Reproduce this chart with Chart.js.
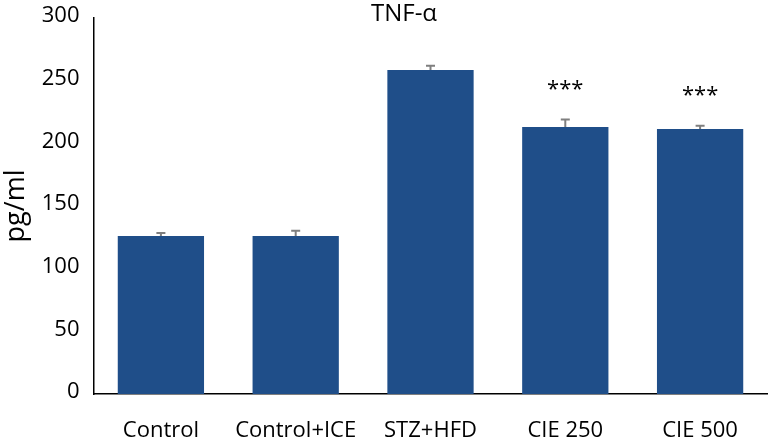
<!DOCTYPE html>
<html>
<head>
<meta charset="utf-8">
<script src="https://cdn.jsdelivr.net/npm/chart.js@4"></script>
<style>
  html, body { margin: 0; padding: 0; background: #fff; }
  #wrap { width: 768px; height: 437px; position: relative; }
</style>
</head>
<body>
<div id="wrap"><canvas id="grafico"></canvas></div>
<script>
/* ===================== DATOS ===================== */

const grupos = ["Control", "Control+ICE", "STZ+HFD", "CIE 250", "CIE 500"];
const medias = [126, 126, 258.5, 213, 211.5];
const errores = [2.4, 4.2, 3.4, 6, 2.6];
const marcas = ["", "", "", "***", "***"];
const ticksY = [0, 50, 100, 150, 200, 250, 300];

const TITULO = "TNF-α";
const TITULO_Y = "pg/ml";
const AZUL = "#1F4E89";
const FUENTE = "'Open Sans', sans-serif";

/* ===================== PLUGIN: barras de error, asteriscos, titulos ===================== */

const extras = {
  id: "extras",
  afterDatasetsDraw(chart) {
    const { ctx, scales: { x, y }, chartArea } = chart;
    ctx.save();

    // barras de error (solo hacia arriba, como en el original)
    ctx.strokeStyle = "#7f7f7f";
    ctx.lineWidth = 2;
    medias.forEach((m, i) => {
      const cx = x.getPixelForValue(i);
      const y0 = y.getPixelForValue(m);
      const y1 = y.getPixelForValue(m + errores[i]);
      ctx.beginPath();
      ctx.moveTo(cx, y0);
      ctx.lineTo(cx, y1);
      ctx.moveTo(cx - 4.5, y1);
      ctx.lineTo(cx + 4.5, y1);
      ctx.stroke();

      if (marcas[i]) {
        ctx.fillStyle = "#000";
        ctx.font = "22px " + FUENTE;
        ctx.textAlign = "center";
        ctx.textBaseline = "alphabetic";
        ctx.fillText(marcas[i], cx, y1 - 24);
      }
    });

    // titulo
    ctx.fillStyle = "#000";
    ctx.font = "24px " + FUENTE;
    ctx.textAlign = "center";
    ctx.textBaseline = "alphabetic";
    ctx.fillText(TITULO, 404, 21);

    // titulo eje y
    ctx.translate(16, (chartArea.top + chartArea.bottom) / 2);
    ctx.rotate(-Math.PI / 2);
    ctx.font = "27px " + FUENTE;
    ctx.textBaseline = "middle";
    ctx.fillText(TITULO_Y, 0, 0);
    ctx.restore();
  }
};

/* ===================== GRAFICO ===================== */

new Chart(document.getElementById("grafico"), {
  type: "bar",
  data: {
    labels: grupos,
    datasets: [{
      data: medias,
      backgroundColor: AZUL,
      borderWidth: 0,
      barPercentage: 1,
      categoryPercentage: 0.64
    }]
  },
  options: {
    responsive: true,
    maintainAspectRatio: false,
    animation: false,
    layout: { padding: { top: 18, right: 0.5, left: 0, bottom: 0 } },
    plugins: { legend: { display: false }, tooltip: { enabled: false } },
    scales: {
      x: {
        grid: { display: false, drawTicks: false },
        border: { display: true, color: "#000", width: 1.5 },
        ticks: { color: "#000", font: { family: FUENTE, size: 22 }, padding: 24, maxRotation: 0, autoSkip: false },
        afterFit(s) { s.height = 43; s.paddingLeft = 0; s.paddingRight = 0; }
      },
      y: {
        min: 0,
        max: 300,
        grid: { display: false, drawTicks: false },
        border: { display: true, color: "#000", width: 1.5 },
        afterBuildTicks(s) { s.ticks = ticksY.map(v => ({ value: v })); },
        ticks: { color: "#000", font: { family: FUENTE, size: 22 }, padding: 14, labelOffset: -2 },
        afterFit(s) { s.width = 93.5; s.paddingTop = 0; s.paddingBottom = 0; }
      }
    }
  },
  plugins: [extras]
});
</script>
</body>
</html>
